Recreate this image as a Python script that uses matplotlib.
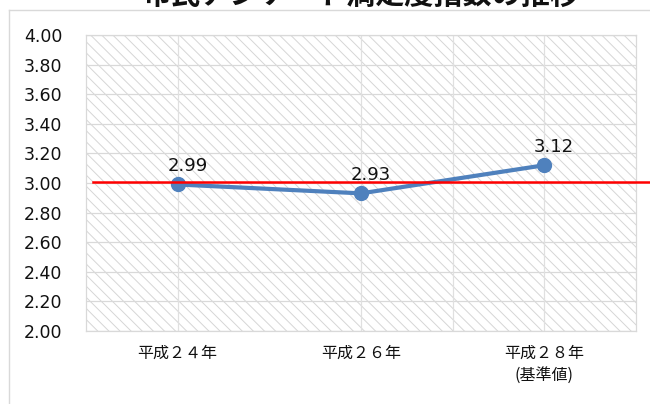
import numpy as np
import matplotlib
matplotlib.use("Agg")
import matplotlib.pyplot as plt
from matplotlib.patches import Rectangle
from matplotlib.lines import Line2D

plt.rcParams['font.family'] = ['Noto Sans CJK JP', 'DejaVu Sans']
plt.rcParams['hatch.color'] = '#d6d6d6'
plt.rcParams['hatch.linewidth'] = 0.7

# データ
title = "市民アンケート満足度指数の推移"
categories = ["平成２４年", "平成２６年", "平成２８年\n(基準値)"]
values = [2.99, 2.93, 3.12]
value_labels = ["2.99", "2.93", "3.12"]
reference_value = 3.01
y_ticks = [2.00, 2.20, 2.40, 2.60, 2.80, 3.00, 3.20, 3.40, 3.60, 3.80, 4.00]

W, H = 650, 404
fig = plt.figure(figsize=(W / 100, H / 100), dpi=100)

# 外枠 (左と上だけ見えている)
fig.add_artist(Line2D([9 / W, 9 / W], [0, 1 - 10 / H], transform=fig.transFigure,
                      color='#d9d9d9', lw=1))
fig.add_artist(Line2D([9 / W, 1], [1 - 10 / H, 1 - 10 / H], transform=fig.transFigure,
                      color='#d9d9d9', lw=1))

# タイトル (上が切れている)
fig.text(0.555, 1 - 4 / H, title, ha='center', va='baseline', fontsize=21,
         fontweight='bold', color='#111111')

ax = fig.add_axes([86 / W, 1 - 331 / H, (636 - 86) / W, (331 - 35) / H])
x = np.arange(len(categories))

# 斜線の背景
ax.add_patch(Rectangle((0, 0), 1, 1, transform=ax.transAxes, facecolor='white',
                       edgecolor='#d6d6d6', hatch='\\\\\\', lw=0, zorder=0))

ax.set_xlim(-0.5, len(categories) - 0.5)
ax.set_ylim(2.0, 4.0)
ax.set_yticks(y_ticks)
ax.set_yticklabels([f"{v:.2f}" for v in y_ticks], fontsize=12.5, family='DejaVu Sans')
ax.set_xticks(x)
ax.set_xticklabels(categories, fontsize=11.5, linespacing=1.35)
ax.tick_params(axis='both', length=0, colors='#111111')
ax.tick_params(axis='y', pad=17)
ax.tick_params(axis='x', pad=10)

for v in y_ticks:
    ax.axhline(v, color='#d9d9d9', lw=0.9, zorder=1)
for xv in [0, 1, 1.5, 2]:
    ax.axvline(xv, color='#e0e0e0', lw=0.9, zorder=1)
for s in ax.spines.values():
    s.set_color('#d9d9d9')
    s.set_linewidth(0.9)

ax.plot(x, values, color='#4f81bd', lw=3, marker='o', markersize=10,
        markerfacecolor='#4f81bd', markeredgecolor='#4f81bd', zorder=4)
ax.axhline(reference_value, xmin=0.012, xmax=1.03, color='#ff0000', lw=1.8, zorder=5,
           clip_on=False)

for xi, v, lab in zip(x, values, value_labels):
    ax.annotate(lab, (xi, v), xytext=(7, 13), textcoords='offset points',
                ha='center', va='center', fontsize=13, family='DejaVu Sans',
                color='#111111', zorder=6)

fig.savefig("out.png", dpi=100)
